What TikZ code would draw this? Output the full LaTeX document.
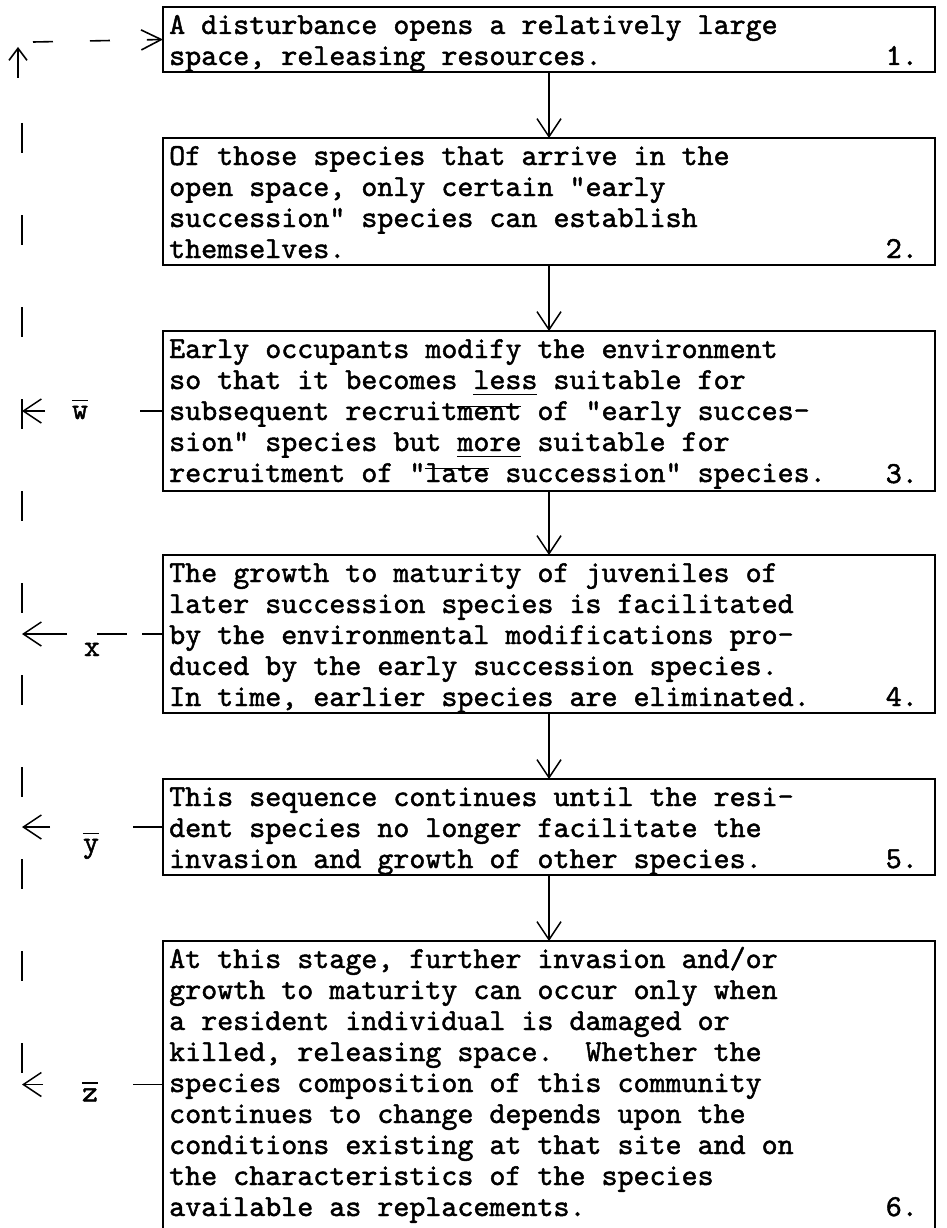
\documentclass[tikz,border=0pt]{standalone}
\usepackage{fontspec}
\newfontfamily\tw{lmmono10-regular.otf}[FakeBold=1.5]
\usetikzlibrary{arrows.meta}
\newcommand{\tul}[1]{\setbox0\hbox{#1}\rlap{\rule[-6pt]{\wd0}{1.3pt}}#1}
\newcommand{\tov}[1]{\setbox0\hbox{#1}\rlap{\rule[13pt]{\wd0}{1.3pt}}#1}
\newcommand{\lbo}[1]{\setbox0\hbox{#1}\rlap{\rule[18pt]{\wd0}{1.3pt}}#1}
\newcommand{\boxtext}[1]{\parbox[t]{740pt}{\raggedright\frenchspacing #1}}
\tikzset{
  every node/.style={font=\fontsize{30.5}{31}\selectfont\tw},
  box/.style={draw, line width=1.8pt, anchor=north west, minimum width=772pt, inner sep=0pt, outer sep=0pt},
  openbox/.style={draw=none, anchor=north west, minimum width=772pt, inner sep=0pt, outer sep=0pt},
  txt/.style={anchor=base west, inner sep=0pt},
  num/.style={anchor=base east, inner sep=0pt},
  lbl/.style={anchor=base, inner sep=0pt},
  varrow/.style={line width=1.5pt, -{Straight Barb[length=18pt,width=24pt,line width=1.5pt]}},
  larrow/.style={line width=1.5pt, -{Straight Barb[length=18pt,width=24pt,line width=1.5pt]}},
  stub/.style={line width=1.5pt},
  vdash/.style={line width=1.8pt, dash pattern=on 30pt off 62pt},
  hdash/.style={line width=1.6pt, dash pattern=on 20pt off 37pt, -{Straight Barb[length=20pt,width=20pt,line width=1.6pt]}},
  uarrow/.style={line width=1.6pt, -{Straight Barb[length=12pt,width=18pt,line width=1.6pt]}},
}
\begin{document}
\begin{tikzpicture}[x=1pt,y=-1pt]
\useasboundingbox (0,0) rectangle (946,1228);
% boxes
\node[box, minimum height=65pt]  (b1) at (163,7) {};
\node[box, minimum height=127pt] (b2) at (163,138) {};
\node[box, minimum height=160pt] (b3) at (163,331) {};
\node[box, minimum height=158pt] (b4) at (163,555) {};
\node[box, minimum height=96pt]  (b5) at (163,779) {};
\node[openbox, minimum height=287pt] (b6) at (163,941) {};
\draw[line width=1.8pt] (b6.south west) -- (b6.north west) -- (b6.north east) -- (b6.south east);
% texts
\node[txt] (t1) at (169,34) {\boxtext{A disturbance opens a relatively large\\
space, releasing resources.}};
\node[num] (n1) at (918,65) {1.};
\node[txt] (t2) at (169,165) {\boxtext{Of those species that arrive in the\\
open space, only certain "early\\
succession" species can establish\\
themselves.}};
\node[num] (n2) at (918,258) {2.};
\node[txt] (t3) at (169,358) {\boxtext{Early occupants modify the environment\\
so that it becomes \tul{less} suitable for\\
subsequent recruit\tov{ment} of "early succes-\\
sion" species but \tul{more} suitable for\\
recruitment of "\tov{late} succession" species.}};
\node[num] (n3) at (918,483) {3.};
\node[txt] (t4) at (169,582) {\boxtext{The growth to maturity of juveniles of\\
later succession species is facilitated\\
by the environmental modifications pro-\\
duced by the early succession species.\\
In time, earlier species are eliminated.}};
\node[num] (n4) at (918,706) {4.};
\node[txt] (t5) at (169,806) {\boxtext{This sequence continues until the resi-\\
dent species no longer facilitate the\\
invasion and growth of other species.}};
\node[num] (n5) at (918,868) {5.};
\node[txt] (t6) at (169,968) {\boxtext{At this stage, further invasion and/or\\
growth to maturity can occur only when\\
a resident individual is damaged or\\
killed, releasing space.\ \ Whether the\\
species composition of this community\\
continues to change depends upon the\\
conditions existing at that site and on\\
the characteristics of the species\\
available as replacements.}};
\node[num] (n6) at (918,1216) {6.};
% vertical flow arrows
\draw[varrow] (b1.south) -- (b2.north);
\draw[varrow] (b2.south) -- (b3.north);
\draw[varrow] (b3.south) -- (b4.north);
\draw[varrow] (b4.south) -- (b5.north);
\draw[varrow] (b5.south) -- (b6.north);
% feedback line on the left
\coordinate (vtop) at (22,123);
\coordinate (vbot) at (22,1073);
\draw[vdash] (vtop) -- (vbot);
\coordinate (ua0) at (18,78);
\coordinate (ua1) at (18,47);
\draw[uarrow] (ua0) -- (ua1);
\coordinate (h0) at (33,42);
\draw[hdash] (h0) -- (b1.west);
% branch w
\coordinate (w0) at (b3.west -| vtop);
\draw[stub] (b3.west) -- ++(-23,0);
\draw[larrow] ([xshift=23pt]w0) -- (w0);
\path (w0) ++(58,8) node[lbl] (lw) {\lbo{w}};
% branch x
\coordinate (x0) at (b4.west -| vtop);
\draw[stub] (b4.west) -- ++(-21,0);
\draw[stub] ([xshift=75pt]x0) -- ([xshift=105pt]x0);
\draw[larrow] ([xshift=45pt]x0) -- (x0);
\path (x0) ++(70,22) node[lbl] (lx) {x};
% branch y
\coordinate (y0) at (b5.west -| vtop);
\draw[stub] (b5.west) -- ++(-30,0);
\draw[larrow] ([xshift=28pt]y0) -- (y0);
\path (y0) ++(69,25) node[lbl] (ly) {\lbo{y}};
% branch z
\coordinate (z0) at (b6.west -| vtop);
\draw[stub] (b6.west) -- ++(-30,0);
\draw[larrow] ([xshift=21pt]z0) -- (z0);
\path (z0) ++(68,17) node[lbl] (lz) {\lbo{z}};
\end{tikzpicture}
\end{document}
